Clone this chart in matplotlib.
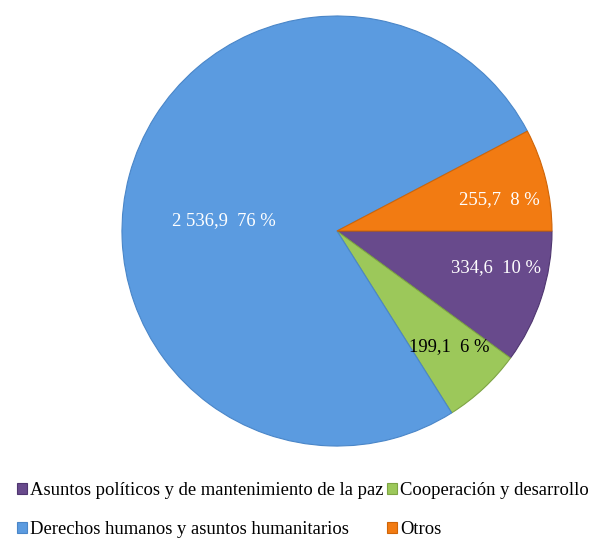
import matplotlib.pyplot as plt
import numpy as np

categorias = ['Asuntos políticos y de mantenimiento de la paz',
              'Cooperación y desarrollo',
              'Derechos humanos y asuntos humanitarios',
              'Otros']
valores = [334.6, 199.1, 2536.9, 255.7]
etiquetas = ['334,6  10 %', '199,1  6 %', '2 536,9  76 %', '255,7  8 %']

colores = ['#684a8c', '#9cc85a', '#5b9be0', '#f27b12']
bordes = ['#4f3670', '#7ea444', '#4a86c8', '#cf6508']
color_texto = ['white', 'black', 'white', 'white']
# radial distance and angle shift for each label inside its slice
dist_etq = [0.76, 0.75, 0.53, 0.77]
desv_etq = [5, 1, 10, -3]

plt.rcParams['font.family'] = ['Liberation Serif', 'DejaVu Serif']

fig = plt.figure(figsize=(6.0, 5.39), dpi=100)
ax = fig.add_axes([0.2033, 0.1725, 0.7167, 0.7978])

wedges, _ = ax.pie(valores, colors=colores, startangle=0, counterclock=False,
                   radius=1.0, wedgeprops=dict(linewidth=0.8))
for w, b in zip(wedges, bordes):
    w.set_edgecolor(b)

for w, txt, c, d, off in zip(wedges, etiquetas, color_texto, dist_etq, desv_etq):
    ang = np.deg2rad((w.theta1 + w.theta2) / 2 + off)
    ax.text(d * np.cos(ang), d * np.sin(ang), txt, color=c, fontsize=13.4,
            ha='center', va='center')

ax.set_xlim(-1, 1)
ax.set_ylim(-1, 1)
ax.set_aspect('auto')
ax.axis('off')

orden = [0, 2, 1, 3]
fig.legend([wedges[i] for i in orden], [categorias[i] for i in orden],
           ncol=2, loc='upper left', bbox_to_anchor=(0.028, 0.105),
           frameon=False, fontsize=13.4, handlelength=0.55, handleheight=0.55,
           handletextpad=0.15, labelspacing=1.15, columnspacing=0.2,
           borderpad=0, borderaxespad=0)

plt.savefig('out.png', dpi=100)
